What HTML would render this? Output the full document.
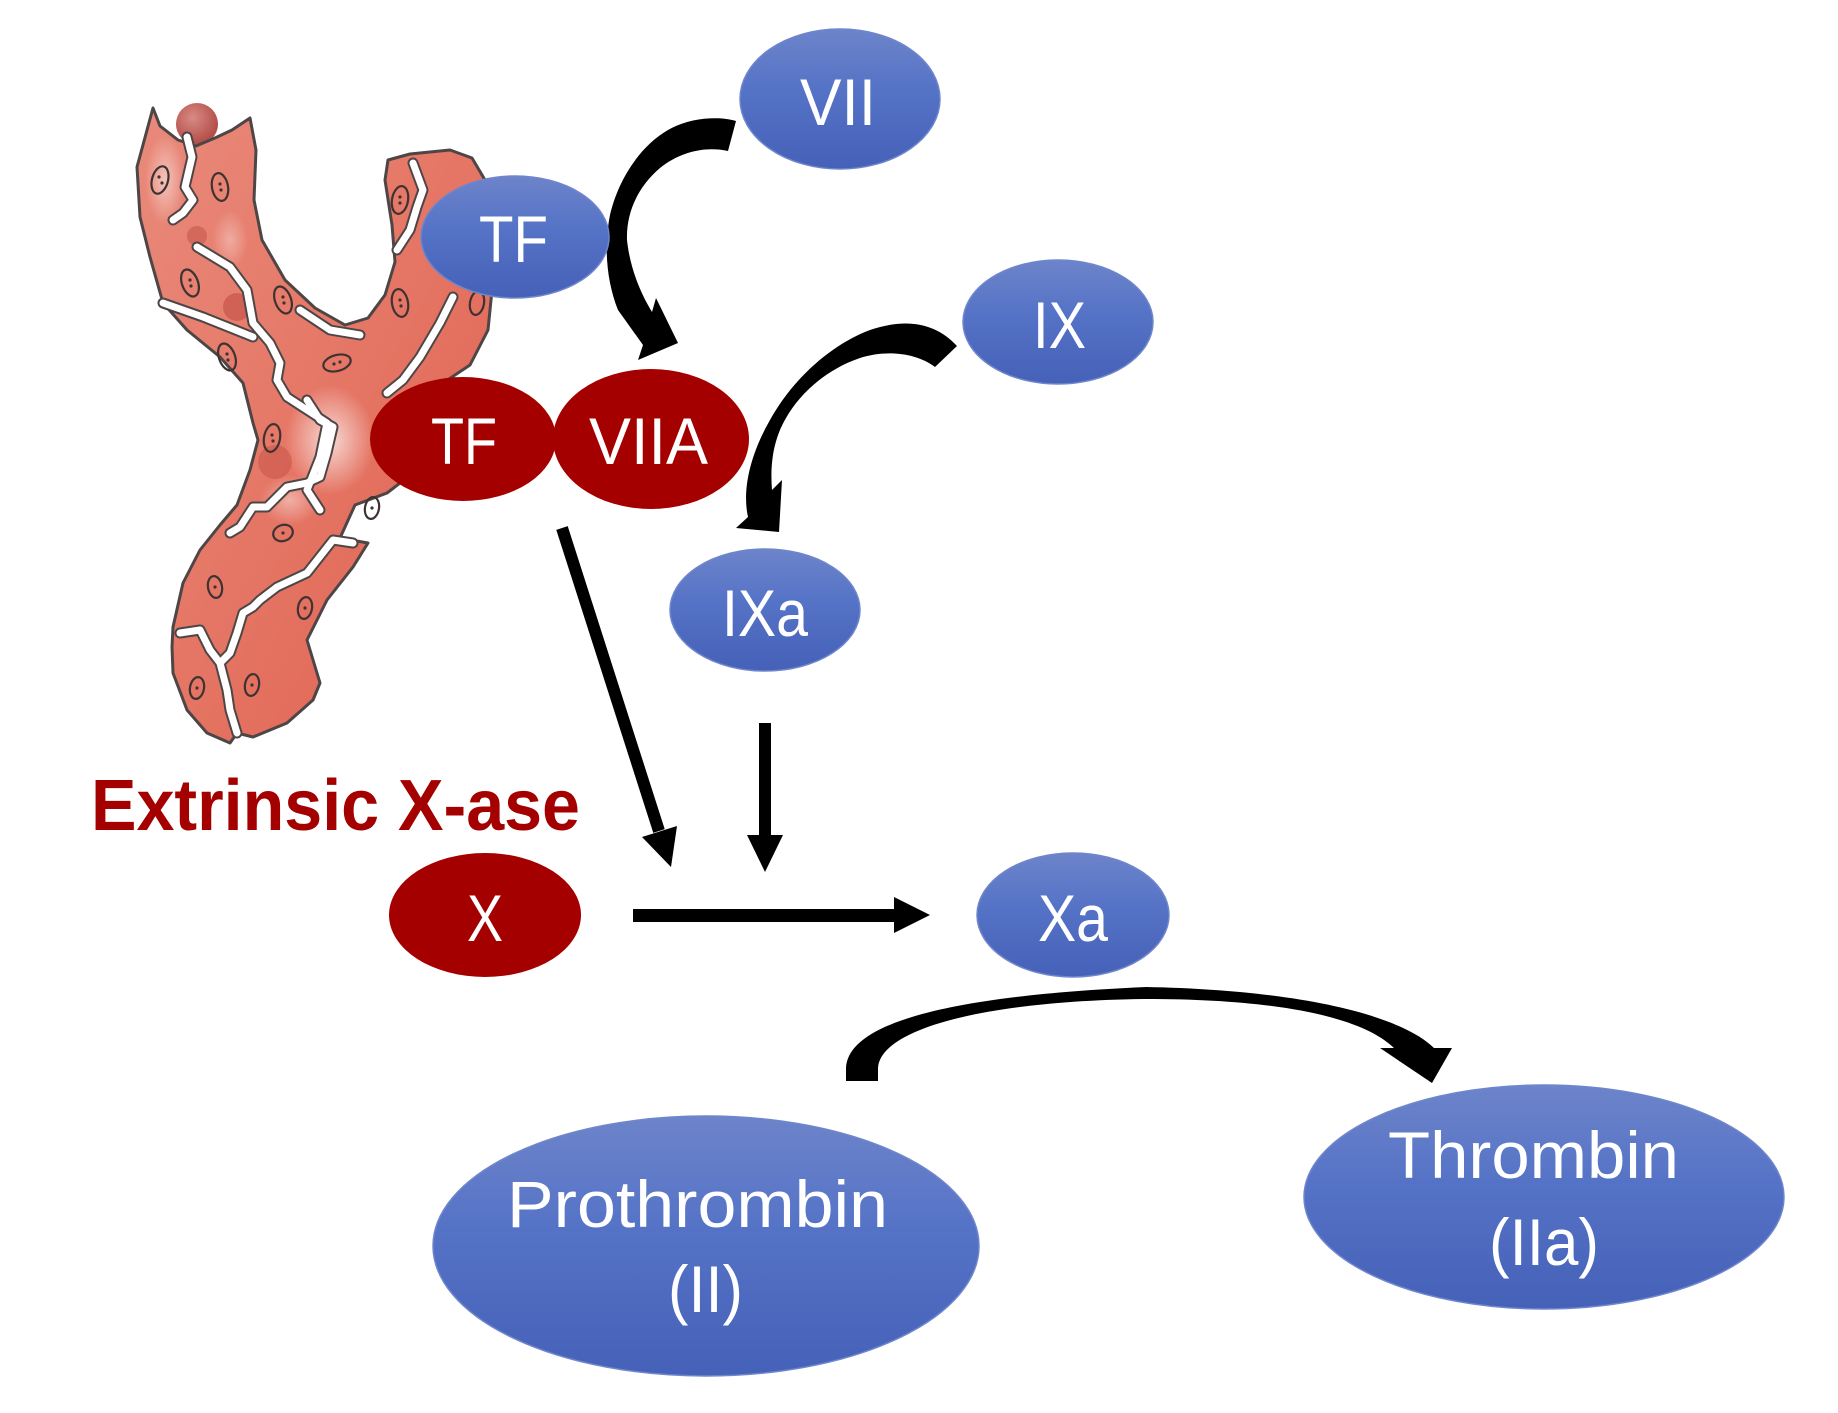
<!DOCTYPE html>
<html>
<head>
<meta charset="utf-8">
<style>
html,body{margin:0;padding:0;background:#fff;}
svg{display:block;}
text{font-family:"Liberation Sans",sans-serif;fill:#fff;}
</style>
</head>
<body>
<svg width="1838" height="1413" viewBox="0 0 1838 1413" xmlns="http://www.w3.org/2000/svg">
<defs>
  <linearGradient id="blue" x1="0" y1="0" x2="0" y2="1">
    <stop offset="0" stop-color="#6d84ca"/>
    <stop offset="0.45" stop-color="#5472c6"/>
    <stop offset="1" stop-color="#4661b8"/>
  </linearGradient>
  <linearGradient id="vessel" x1="0" y1="0" x2="1" y2="1">
    <stop offset="0" stop-color="#e98a7b"/>
    <stop offset="0.5" stop-color="#e57665"/>
    <stop offset="1" stop-color="#df6150"/>
  </linearGradient>
  <radialGradient id="hl" cx="0.5" cy="0.5" r="0.5">
    <stop offset="0" stop-color="#ffffff" stop-opacity="0.85"/>
    <stop offset="1" stop-color="#ffffff" stop-opacity="0"/>
  </radialGradient>
  <radialGradient id="ball" cx="0.4" cy="0.35" r="0.6">
    <stop offset="0" stop-color="#d98a84"/>
    <stop offset="1" stop-color="#b4504a"/>
  </radialGradient>
</defs>

<!-- ===== Vessel illustration ===== -->
<g>
  <circle cx="197" cy="124" r="21" fill="url(#ball)"/>
  <path d="M153,108 L160,126 L178,140 L196,146 L215,138 L232,130 L250,118 L256,150 L254,200 L262,240 L285,280 L315,308 L345,325 L368,318 L385,295 L395,262 L392,225 L385,180 L388,160 L410,154 L450,150 L472,158 L485,180 L490,230 L492,290 L488,330 L470,365 L440,385 L420,395 L410,440 L400,483 L387,493 L355,505 L340,538 L368,543 L353,567 L327,600 L307,640 L320,683 L313,700 L287,723 L253,737 L237,733 L230,743 L207,733 L187,710 L173,673 L172,647 L173,627 L183,583 L200,550 L220,525 L237,505 L250,470 L258,440 L253,423 L243,383 L220,357 L187,330 L163,303 L150,257 L140,217 L137,167 Z"
        fill="url(#vessel)" stroke="#4e4646" stroke-width="3" stroke-linejoin="round"/>
  <!-- highlights -->
  <ellipse cx="165" cy="180" rx="20" ry="45" fill="url(#hl)" opacity="0.6"/>
  <ellipse cx="330" cy="440" rx="45" ry="55" fill="url(#hl)" opacity="0.85"/>
  <ellipse cx="290" cy="500" rx="30" ry="25" fill="url(#hl)" opacity="0.5"/>
  <ellipse cx="230" cy="240" rx="18" ry="30" fill="url(#hl)" opacity="0.4"/>
  <!-- darker blobs -->
  <circle cx="237" cy="307" r="14" fill="#c24e43" opacity="0.6"/>
  <circle cx="275" cy="462" r="17" fill="#c24e43" opacity="0.45"/>
  <circle cx="197" cy="236" r="10" fill="#c24e43" opacity="0.5"/>
  <!-- cracks -->
  <g fill="none" stroke-linejoin="round" stroke-linecap="round">
    <g stroke="#4e4646" stroke-width="11">
      <polyline points="187,137 192,157 185,187 193,200 183,213 173,220"/>
      <polyline points="197,247 230,267 247,290 253,323 270,343 280,363 277,380 287,397 307,410 327,423 320,457 307,490 320,510"/>
      <polyline points="163,303 203,317 253,337"/>
      <polyline points="413,163 423,190 417,207 410,230 397,250"/>
      <polyline points="453,297 440,323 420,357 403,380 387,393"/>
      <polyline points="307,400 320,420 333,427 327,453 320,477 307,483 287,487 267,507 253,507 240,527 230,533"/>
      <polyline points="353,543 333,540 307,573 277,587 260,600 253,607 243,613 237,633 230,653 220,663 227,690 230,710 237,733"/>
      <polyline points="180,633 200,630 210,650 220,663"/>
      <polyline points="300,310 330,330 360,335"/>
    </g>
    <g stroke="#ffffff" stroke-width="7">
      <polyline points="187,137 192,157 185,187 193,200 183,213 173,220"/>
      <polyline points="197,247 230,267 247,290 253,323 270,343 280,363 277,380 287,397 307,410 327,423 320,457 307,490 320,510"/>
      <polyline points="163,303 203,317 253,337"/>
      <polyline points="413,163 423,190 417,207 410,230 397,250"/>
      <polyline points="453,297 440,323 420,357 403,380 387,393"/>
      <polyline points="307,400 320,420 333,427 327,453 320,477 307,483 287,487 267,507 253,507 240,527 230,533"/>
      <polyline points="353,543 333,540 307,573 277,587 260,600 253,607 243,613 237,633 230,653 220,663 227,690 230,710 237,733"/>
      <polyline points="180,633 200,630 210,650 220,663"/>
      <polyline points="300,310 330,330 360,335"/>
    </g>
  </g>
  <!-- nuclei -->
  <g fill="none" stroke="#3e3232" stroke-width="2.2">
    <ellipse cx="160" cy="180" rx="8" ry="14" transform="rotate(15 160 180)"/>
    <ellipse cx="220" cy="187" rx="8" ry="14" transform="rotate(-10 220 187)"/>
    <ellipse cx="190" cy="283" rx="8" ry="14" transform="rotate(-20 190 283)"/>
    <ellipse cx="283" cy="300" rx="8" ry="14" transform="rotate(-20 283 300)"/>
    <ellipse cx="227" cy="357" rx="8" ry="14" transform="rotate(-20 227 357)"/>
    <ellipse cx="337" cy="363" rx="14" ry="8" transform="rotate(-15 337 363)"/>
    <ellipse cx="400" cy="200" rx="8" ry="14" transform="rotate(10 400 200)"/>
    <ellipse cx="400" cy="303" rx="8" ry="14" transform="rotate(-10 400 303)"/>
    <ellipse cx="477" cy="303" rx="7" ry="12" transform="rotate(10 477 303)"/>
    <ellipse cx="272" cy="438" rx="8" ry="14" transform="rotate(10 272 438)"/>
    <ellipse cx="283" cy="533" rx="10" ry="8" transform="rotate(-20 283 533)"/>
    <ellipse cx="215" cy="587" rx="7" ry="11" transform="rotate(-10 215 587)"/>
    <ellipse cx="305" cy="608" rx="7" ry="11" transform="rotate(10 305 608)"/>
    <ellipse cx="372" cy="508" rx="7" ry="11" transform="rotate(10 372 508)"/>
    <ellipse cx="197" cy="688" rx="7" ry="11" transform="rotate(10 197 688)"/>
    <ellipse cx="252" cy="685" rx="7" ry="11" transform="rotate(10 252 685)"/>
  </g>
  <g fill="#3e3232">
    <circle cx="159" cy="177" r="1.6"/><circle cx="162" cy="183" r="1.6"/>
    <circle cx="220" cy="184" r="1.6"/><circle cx="221" cy="190" r="1.6"/>
    <circle cx="190" cy="280" r="1.6"/><circle cx="191" cy="286" r="1.6"/>
    <circle cx="283" cy="297" r="1.6"/><circle cx="284" cy="303" r="1.6"/>
    <circle cx="227" cy="354" r="1.6"/><circle cx="228" cy="360" r="1.6"/>
    <circle cx="334" cy="364" r="1.6"/><circle cx="340" cy="362" r="1.6"/>
    <circle cx="400" cy="197" r="1.6"/><circle cx="400" cy="203" r="1.6"/>
    <circle cx="400" cy="300" r="1.6"/><circle cx="401" cy="306" r="1.6"/>
    <circle cx="272" cy="435" r="1.6"/><circle cx="273" cy="441" r="1.6"/>
    <circle cx="283" cy="533" r="1.6"/><circle cx="215" cy="587" r="1.6"/>
    <circle cx="305" cy="608" r="1.6"/><circle cx="372" cy="508" r="1.6"/>
    <circle cx="197" cy="688" r="1.6"/><circle cx="252" cy="685" r="1.6"/>
  </g>
</g>

<!-- ===== Connectors ===== -->
<path d="M736,121 C720,116 690,117 668,130 C640,146 618,180 610,215 C604,245 606,280 618,310 L643,345 L638,360 L678,343 L656,298 L652,312 C640,292 630,268 627,240 C626,210 640,185 660,168 C680,152 705,146 728,151 Z" fill="#000"/>
<path d="M957,346 C935,322 905,318 870,330 C835,343 795,375 770,420 C750,455 742,490 748,517 L736,528 L779,532 L782,480 L772,490 C770,465 773,440 786,418 C802,390 830,368 860,358 C885,350 915,352 935,367 Z" fill="#000"/>
<line x1="562" y1="528" x2="659" y2="831" stroke="#000" stroke-width="12"/>
<polygon points="642,837 677,826 671,867" fill="#000"/>
<rect x="759" y="723" width="12" height="114" fill="#000"/>
<polygon points="747,835 783,835 765,872" fill="#000"/>
<rect x="633" y="909" width="263" height="13" fill="#000"/>
<polygon points="894,897 894,933 930,915" fill="#000"/>
<path d="M846,1081 L846,1068 C848,1025 940,996 1146,987 C1300,990 1400,1015 1434,1048 L1452,1048 L1432,1083 L1380,1048 L1394,1048 C1360,1015 1270,999 1146,999 C980,1001 880,1030 878,1068 L878,1081 Z" fill="#000"/>

<!-- ===== Nodes ===== -->
<ellipse cx="840" cy="99" rx="100" ry="70" fill="url(#blue)" stroke="#6f86cc" stroke-width="1.5"/>
<ellipse cx="515" cy="237" rx="94" ry="61" fill="url(#blue)" stroke="#6f86cc" stroke-width="1.5"/>
<ellipse cx="1058" cy="322" rx="95" ry="62" fill="url(#blue)" stroke="#6f86cc" stroke-width="1.5"/>
<ellipse cx="463" cy="439" rx="93" ry="62" fill="#a40000"/>
<ellipse cx="651" cy="439" rx="98" ry="70" fill="#a40000"/>
<ellipse cx="765" cy="610" rx="95" ry="61" fill="url(#blue)" stroke="#6f86cc" stroke-width="1.5"/>
<ellipse cx="485" cy="915" rx="96" ry="62" fill="#a40000"/>
<ellipse cx="1073" cy="915" rx="96" ry="62" fill="url(#blue)" stroke="#6f86cc" stroke-width="1.5"/>
<ellipse cx="706" cy="1246" rx="273" ry="130" fill="url(#blue)" stroke="#6f86cc" stroke-width="1.5"/>
<ellipse cx="1544" cy="1197" rx="240" ry="112" fill="url(#blue)" stroke="#6f86cc" stroke-width="1.5"/>

<!-- ===== Labels ===== -->
<g font-size="66">
  <text x="800" y="125" textLength="76" lengthAdjust="spacingAndGlyphs">VII</text>
  <text x="479" y="262" textLength="69" lengthAdjust="spacingAndGlyphs">TF</text>
  <text x="1033" y="348" textLength="53" lengthAdjust="spacingAndGlyphs">IX</text>
  <text x="431" y="464" textLength="66" lengthAdjust="spacingAndGlyphs">TF</text>
  <text x="589" y="464" textLength="119" lengthAdjust="spacingAndGlyphs">VIIA</text>
  <text x="722" y="636" textLength="86" lengthAdjust="spacingAndGlyphs">IXa</text>
  <text x="467" y="941" textLength="36" lengthAdjust="spacingAndGlyphs">X</text>
  <text x="1038" y="941" textLength="70" lengthAdjust="spacingAndGlyphs">Xa</text>
  <text x="507" y="1227" textLength="381" lengthAdjust="spacingAndGlyphs">Prothrombin</text>
  <text x="668" y="1312" textLength="75" lengthAdjust="spacingAndGlyphs">(II)</text>
  <text x="1388" y="1178" textLength="291" lengthAdjust="spacingAndGlyphs">Thrombin</text>
  <text x="1489" y="1265" textLength="110" lengthAdjust="spacingAndGlyphs">(IIa)</text>
</g>
<text x="91" y="830" font-size="72" font-weight="bold" style="fill:#a40000" textLength="489" lengthAdjust="spacingAndGlyphs">Extrinsic X-ase</text>
</svg>
</body>
</html>
